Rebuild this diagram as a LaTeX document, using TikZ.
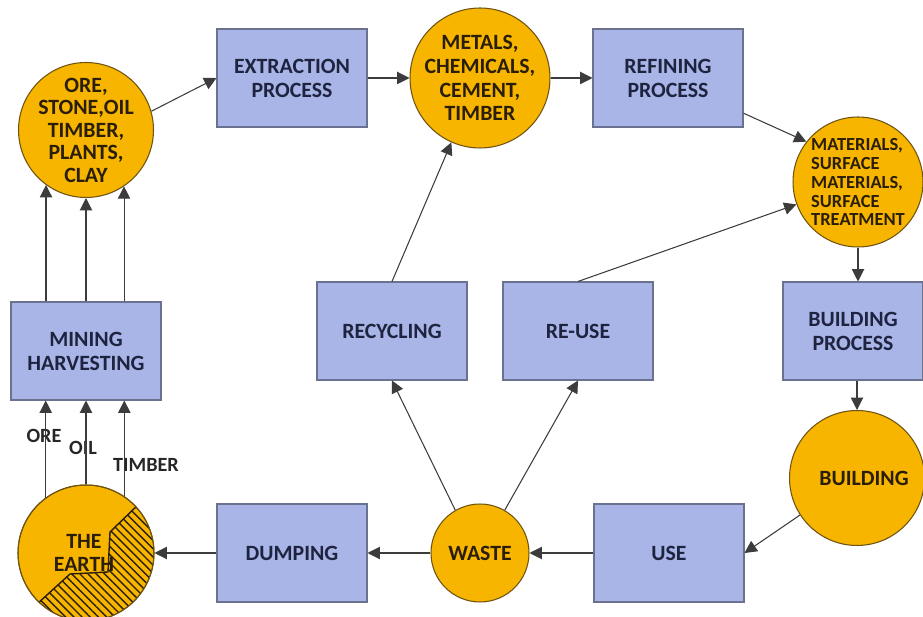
\documentclass[tikz,border=0pt]{standalone}
\usepackage{fontspec}
\setmainfont{Carlito}
\usetikzlibrary{arrows.meta,patterns.meta}
\definecolor{gold}{HTML}{F7B500}
\definecolor{goldline}{HTML}{6E5312}
\definecolor{lav}{HTML}{A9B5E6}
\definecolor{lavline}{HTML}{6A7290}
\definecolor{navy}{HTML}{1E2440}
\definecolor{brn}{HTML}{2A1E08}
\definecolor{arr}{HTML}{3C3C3C}
\tikzset{
  procbox/.style={rectangle, draw=lavline, fill=lav, line width=0.6pt,
    minimum width=3cm, minimum height=1.96cm, align=center, text=navy,
    font=\bfseries\fontsize{12.4}{13.6}\selectfont},
  stock/.style={circle, draw=goldline, fill=gold, line width=0.6pt,
    minimum size=#1, inner sep=0pt},
  stock/.default=2.7cm,
  stocktext/.style={align=center, text=brn,
    font=\bfseries\fontsize{12.4}{12.8}\selectfont},
  flow/.style={draw=arr, line width=0.6pt, -{Triangle[length=7pt,width=7pt]}},
  earthlab/.style={text=black!85, font=\bfseries\fontsize{11.5}{12}\selectfont},
}
\begin{document}
\begin{tikzpicture}[x=0.02cm,y=-0.02cm]
  \useasboundingbox (0,0) rectangle (923,617);
  % top row
  \node[stock, label={[stocktext]center:{ORE,\\STONE,OIL\\TIMBER,\\PLANTS,\\CLAY}}] (ore) at (86,130) {};
  \node[procbox] (extract) at (292,78) {EXTRACTION\\PROCESS};
  \node[stock=2.8cm, label={[stocktext,font=\bfseries\fontsize{12.4}{13.6}\selectfont]center:{METALS,\\CHEMICALS,\\CEMENT,\\TIMBER}}] (metals) at (480,78) {};
  \node[procbox] (refine) at (668,78) {REFINING\\PROCESS};
  \node[stock=2.6cm, label={[stocktext,align=left,font=\bfseries\fontsize{10.5}{10.8}\selectfont]center:{MATERIALS,\\SURFACE\\MATERIALS,\\SURFACE\\TREATMENT}}] (mat) at (858,182) {};
  % middle row
  \node[procbox] (mining) at (86,351) {MINING\\HARVESTING};
  \node[procbox] (recycle) at (392,331) {RECYCLING};
  \node[procbox] (reuse) at (578,331) {RE-USE};
  \node[procbox, minimum width=2.8cm] (bproc) at (853,331) {BUILDING\\PROCESS};
  % bottom row
  \node[stock, label={[stocktext]center:{\hspace{8pt}BUILDING}}] (building) at (857,478) {};
  \node[procbox] (use) at (669,553) {USE};
  \node[stock=1.96cm, label={[stocktext]center:{WASTE}}] (waste) at (480,553) {};
  \node[procbox] (dump) at (292,553) {DUMPING};
  \node[stock=2.72cm] (earth) at (86,553) {};
  \begin{scope}
    \clip (earth.center) circle[radius=1.36cm];
    \fill[pattern={Lines[angle=-45,distance=3.3pt,line width=0.8pt]}, pattern color=brn]
      (142,501) -- (110,532) -- (108,572) -- (70,574) -- (25,615) -- (86,660) -- (175,600) -- (175,501) -- cycle;
    \draw[brn, line width=0.8pt] (142,501) -- (110,532) -- (108,572) -- (70,574) -- (25,615);
  \end{scope}
  \draw[goldline, line width=0.6pt] (earth.center) circle[radius=1.36cm];
  \node[stocktext] (earth-t) at (84,553) {THE\\EARTH};
  % earth labels
  \node[earthlab] (ore-l) at (44,436) {ORE};
  \node[earthlab] (oil-l) at (83,448) {OIL};
  \node[earthlab] (timber-l) at (146,465) {TIMBER};
  % flows
  \draw[flow] (ore.16) -- (extract.west);
  \draw[flow] (extract) -- (metals);
  \draw[flow] (metals) -- (refine);
  \draw[flow] (refine.-25) -- (mat.142);
  \draw[flow] (mat.south) -- (mat.south |- bproc.north);
  \draw[flow] (building.north |- bproc.south) -- (building.north);
  \draw[flow] (building.213) -- (use.east);
  \draw[flow] (use) -- (waste);
  \draw[flow] (waste) -- (dump);
  \draw[flow] (dump) -- (earth);
  \draw[flow] (waste.120) -- (recycle.south);
  \draw[flow] (waste.60) -- (reuse.south);
  \draw[flow] (recycle.north) -- (metals.246);
  \draw[flow] (reuse.north) -- (mat.200);
  \foreach \a/\b in {126/234, 90/270, 56/304} {
    \draw[flow] (earth.\a) -- (earth.\a |- mining.south);
    \draw[flow] (ore.\b |- mining.north) -- (ore.\b);
  }
\end{tikzpicture}
\end{document}
